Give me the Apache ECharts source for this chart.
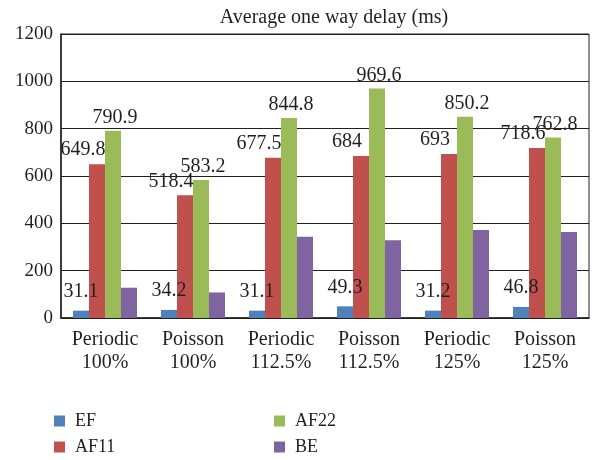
<!DOCTYPE html>
<html>
<head>
<meta charset="utf-8">
<script src="https://cdn.jsdelivr.net/npm/echarts@6/dist/echarts.min.js"></script>
<style>
  html, body { margin: 0; padding: 0; background: #fff; }
  #chart { width: 594px; height: 460px; }
</style>
</head>
<body>
<div id="chart"></div>
<script>
const categories = ['Periodic\n100%', 'Poisson\n100%', 'Periodic\n112.5%', 'Poisson\n112.5%', 'Periodic\n125%', 'Poisson\n125%']
const ef = [31.1, 34.2, 31.1, 49.3, 31.2, 46.8]
const af11 = [649.8, 518.4, 677.5, 684, 693, 718.6]
const af22 = [790.9, 583.2, 844.8, 969.6, 850.2, 762.8]
const be = [128, 108, 343, 328, 372, 363]
const yTicks = [0, 200, 400, 600, 800, 1000, 1200]

const FONT = '"Liberation Serif", "DejaVu Serif", serif'
const TEXT = '#231f20'
const COLORS = ['#4f81bd', '#c0504d', '#9bbb59', '#8064a2']

const chart = echarts.init(document.getElementById('chart'))

function bar(name, data, i, label) {
  return {
    name,
    type: 'bar',
    data,
    barWidth: 16,
    barGap: '0%',
    itemStyle: { color: COLORS[i] },
    label: label ? Object.assign({
      show: true,
      position: 'top',
      color: TEXT,
      fontFamily: FONT,
      fontSize: 20,
    }, label) : { show: false },
  }
}

function legendItem(name, left, top) {
  return {
    data: [name],
    left,
    top,
    padding: 0,
    itemWidth: 11,
    itemHeight: 11,
    icon: 'rect',
    textStyle: { fontFamily: FONT, fontSize: 18, color: TEXT, padding: [0, 0, 0, 5] },
  }
}

chart.setOption({
  animation: false,
  title: {
    text: 'Average one way delay (ms)',
    left: 329,
    textAlign: 'center',
    top: 3,
    textStyle: { fontFamily: FONT, fontSize: 20, fontWeight: 'normal', color: TEXT },
  },
  legend: [
    legendItem('EF', 54, 412),
    legendItem('AF11', 54, 438),
    legendItem('AF22', 274, 412),
    legendItem('BE', 274, 438),
  ],
  grid: {
    left: 61, right: 5, top: 34, bottom: 142,
    show: true, borderColor: TEXT, borderWidth: 1,
  },
  xAxis: {
    type: 'category',
    data: categories,
    axisTick: { show: false },
    axisLine: { lineStyle: { color: TEXT, width: 1.5 } },
    axisLabel: {
      fontFamily: FONT, fontSize: 20, color: TEXT,
      lineHeight: 23, margin: 10, interval: 0,
    },
  },
  yAxis: {
    type: 'value',
    min: yTicks[0],
    max: yTicks[yTicks.length - 1],
    interval: yTicks[1] - yTicks[0],
    axisLine: { show: true, lineStyle: { color: TEXT, width: 1.5 } },
    axisTick: { show: false },
    axisLabel: { fontFamily: FONT, fontSize: 19, color: TEXT, margin: 8, formatter: v => String(v) },
    splitLine: { lineStyle: { color: TEXT, width: 1 } },
  },
  series: [
    bar('EF', ef, 0, { distance: 9 }),
    bar('AF11', af11, 1, { distance: 4, offset: [-14, 0] }),
    bar('AF22', af22, 2, { distance: 3, offset: [2, 0] }),
    bar('BE', be, 3, null),
  ],
})
</script>
</body>
</html>
